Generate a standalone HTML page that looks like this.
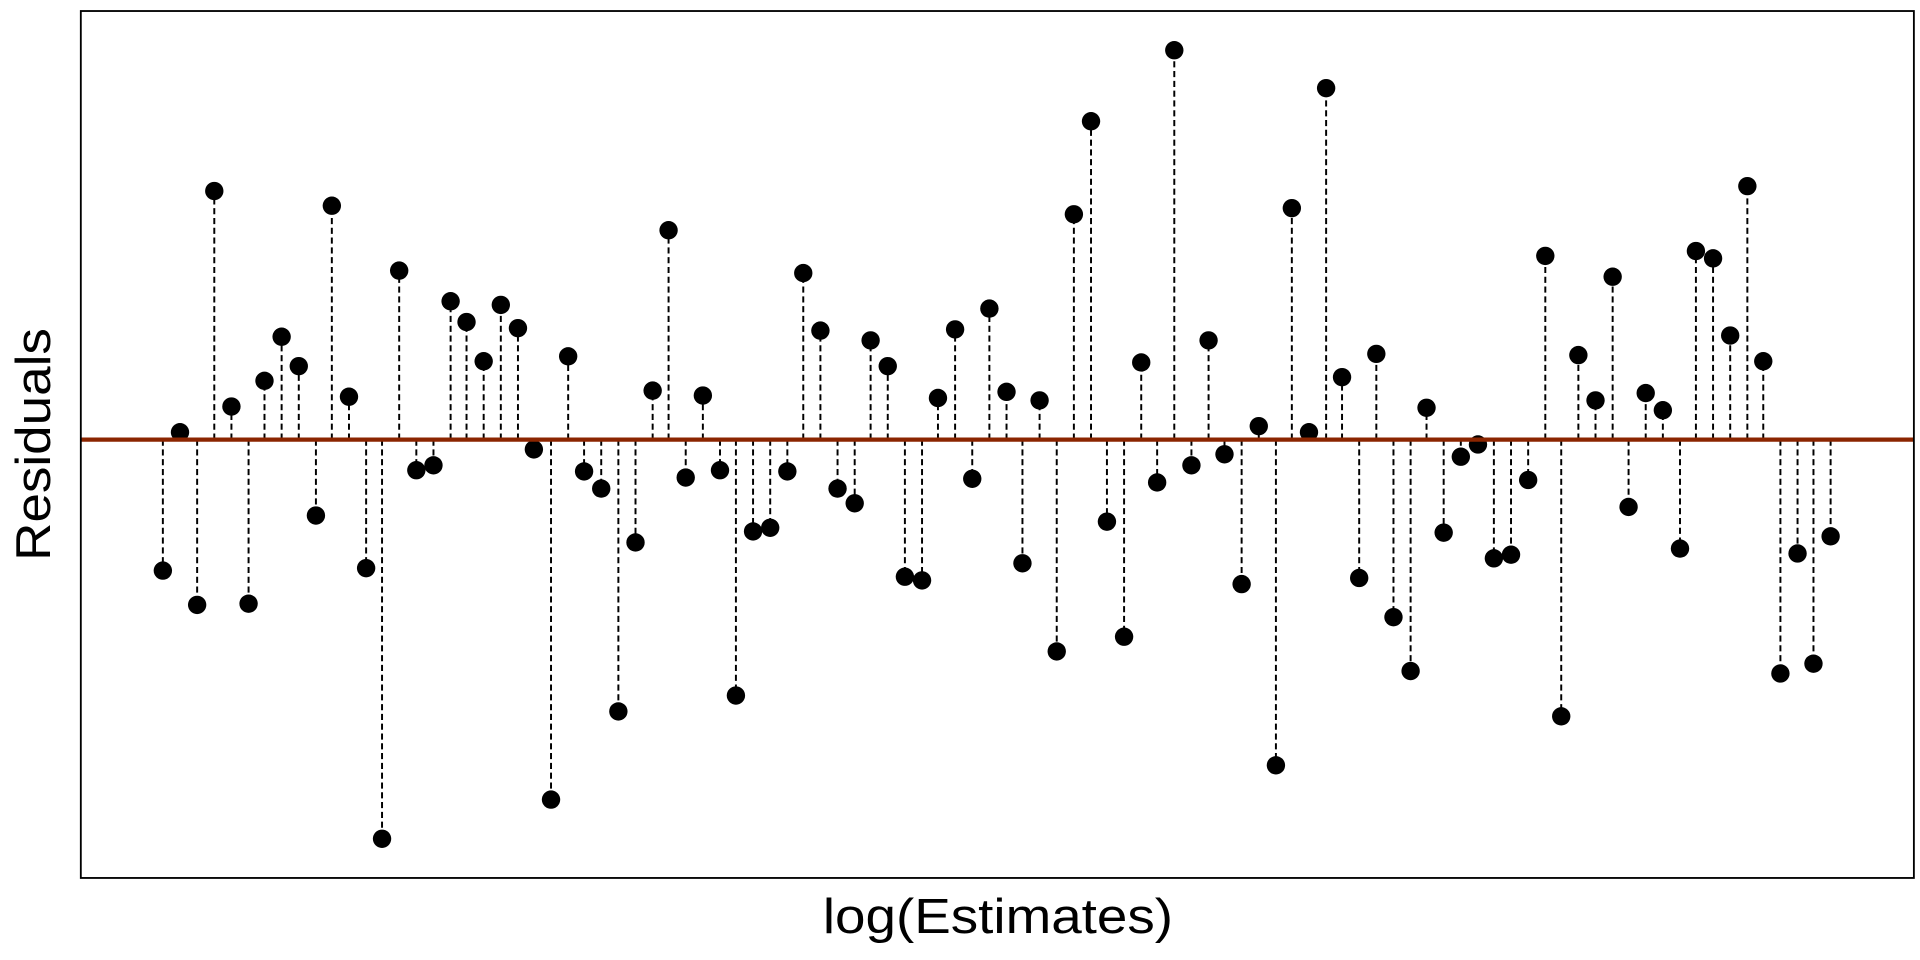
<!DOCTYPE html>
<html><head><meta charset="utf-8"><style>html,body{margin:0;padding:0;background:#fff;}svg{display:block}</style></head>
<body>
<svg width="1920" height="960" viewBox="0 0 1568 784" xmlns="http://www.w3.org/2000/svg">
<rect x="0" y="0" width="1568" height="784" fill="#fff"/>
<g id="pts" stroke="#000" stroke-width="1.6" stroke-dasharray="5,3"></g>
<g id="dots" fill="#000"></g>
<line x1="66" y1="359" x2="1563" y2="359" stroke="#8B2500" stroke-width="3.5"/>
<rect x="66" y="9" width="1497" height="708" fill="none" stroke="#000" stroke-width="1.5"/>
<text x="672" y="762" textLength="286" lengthAdjust="spacingAndGlyphs" font-family="Liberation Sans, DejaVu Sans, sans-serif" font-size="40">log(Estimates)</text>
<text transform="translate(41,458) rotate(-90)" textLength="190" lengthAdjust="spacingAndGlyphs" font-family="Liberation Sans, DejaVu Sans, sans-serif" font-size="40">Residuals</text>
<script>
var d=[[133,465],[147,352],[161,493],[175,155],[189,331],[203,492],[216,310],[230,274],[244,298],[258,420],[271,167],[285,323],[299,463],[312,684],[326,220],[340,383],[354,379],[368,245],[381,262],[395,294],[409,248],[423,267],[436,366],[450,652],[464,290],[477,384],[491,398],[505,580],[519,442],[533,318],[546,187],[560,389],[574,322],[588,383],[601,567],[615,433],[629,430],[643,384],[656,222],[670,269],[684,398],[698,410],[711,277],[725,298],[739,470],[753,473],[766,324],[780,268],[794,390],[808,251],[822,319],[835,459],[849,326],[863,531],[877,174],[891,98],[904,425],[918,519],[932,295],[945,393],[959,40],[973,379],[987,277],[1000,370],[1014,476],[1028,347],[1042,624],[1055,169],[1069,352],[1083,71],[1096,307],[1110,471],[1124,288],[1138,503],[1152,547],[1165,332],[1179,434],[1193,372],[1207,362],[1220,455],[1234,452],[1248,391],[1262,208],[1275,584],[1289,289],[1303,326],[1317,225],[1330,413],[1344,320],[1358,334],[1372,447],[1385,204],[1399,210],[1413,273],[1427,151],[1440,294],[1454,549],[1468,451],[1481,541],[1495,437]];
var ns="http://www.w3.org/2000/svg",g=document.getElementById("pts"),c=document.getElementById("dots");
d.forEach(function(p){var y=p[1]+1;var l=document.createElementNS(ns,"line");l.setAttribute("x1",p[0]);l.setAttribute("x2",p[0]);l.setAttribute("y1",359);l.setAttribute("y2",y);g.appendChild(l);
var e=document.createElementNS(ns,"circle");e.setAttribute("cx",p[0]);e.setAttribute("cy",y);e.setAttribute("r",7.5);c.appendChild(e);});
</script>
</svg>
</body></html>
